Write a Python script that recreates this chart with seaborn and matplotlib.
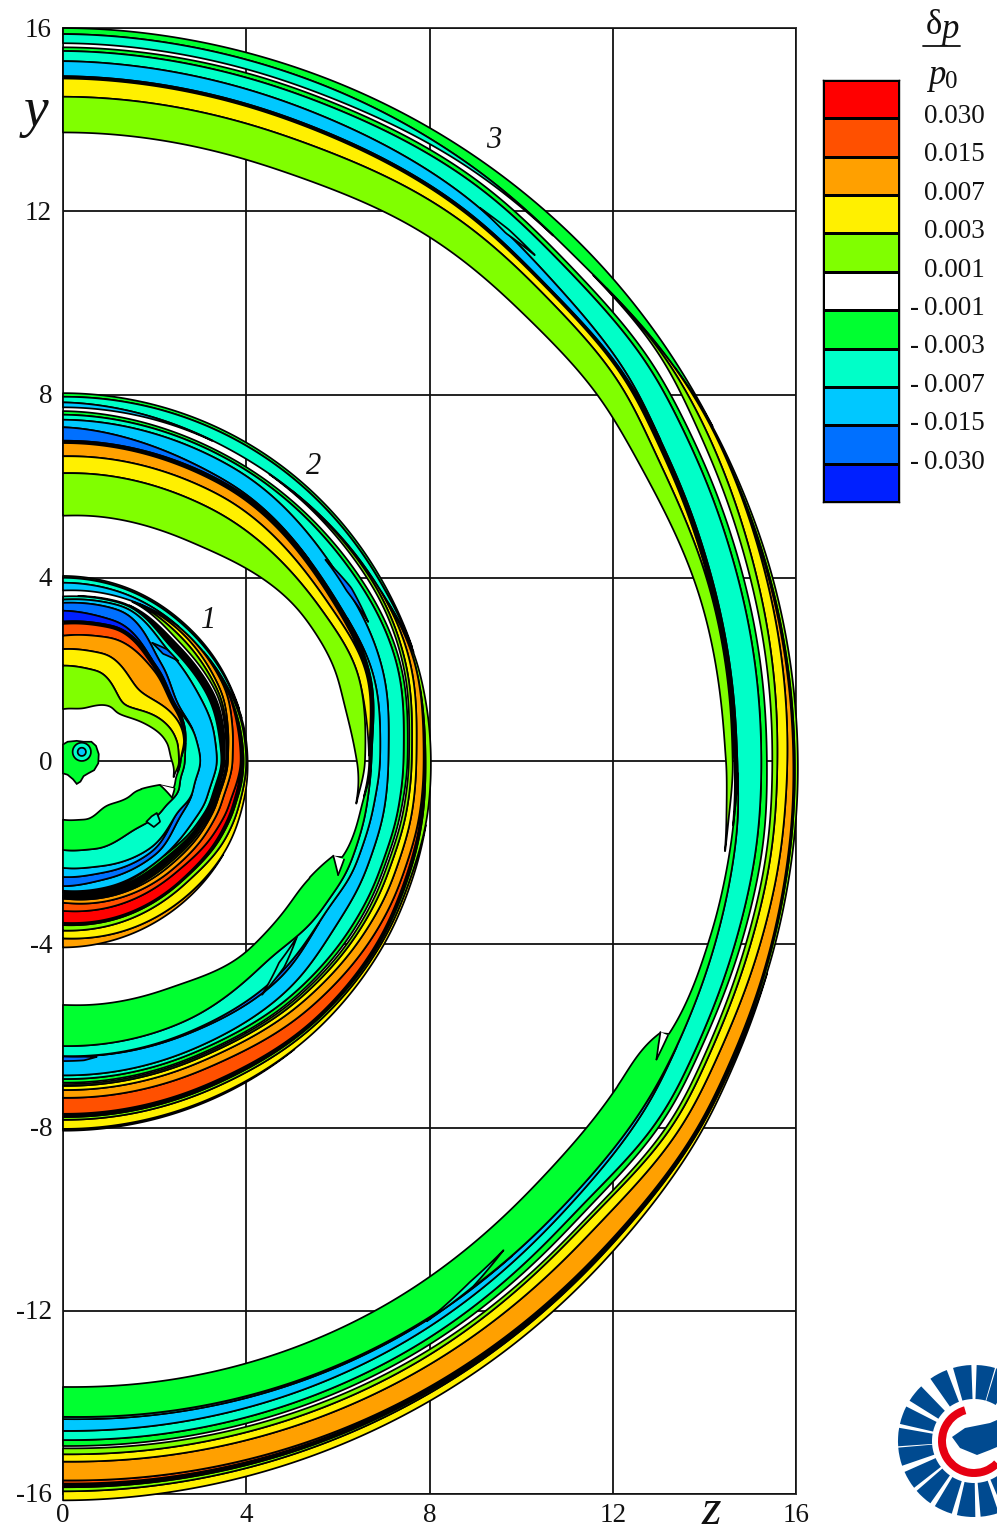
import numpy as np
import matplotlib
matplotlib.use("Agg")
import matplotlib.pyplot as plt
from matplotlib.colors import ListedColormap
from matplotlib.patches import Wedge, Polygon
import seaborn as sns

sns.set_style("white")
plt.rcParams['font.family'] = ['Liberation Serif', 'DejaVu Serif']

LEVEL_LABELS = ["0.030", "0.015", "0.007", "0.003", "0.001",
                "- 0.001", "- 0.003", "- 0.007", "- 0.015", "- 0.030"]
LEVEL_COLORS = ["#ff0000", "#ff5000", "#ffa000", "#fff000", "#80ff00", "#ffffff",
                "#00ff30", "#00ffc8", "#00c8ff", "#0070ff", "#0020ff"]
R, RO, O, Y, YG, W, G, T, C, B, BD = LEVEL_COLORS
K = "#000000"
TICKS_Z = [0, 4, 8, 12, 16]
TICKS_Y = [-16, -12, -8, -4, 0, 4, 8, 12, 16]

# layer order, outer to inner; None = white gap that shows the grid
ORDER = [("g_o", G), ("t_o", T), ("c_o", C), ("o2", O), ("y2", Y), ("yg2", YG), ("k2", K),
         ("r", R), ("ro", RO), ("o", O), ("y", Y), ("yg", YG), ("w", None), ("k3", K),
         ("g", G), ("t", T), ("c", C), ("b", B), ("bd", BD), ("c_in", C), ("t_in", T),
         ("g_in", G), ("k1", K), ("ro_t", RO), ("o_t", O), ("y_t", Y), ("w2", None), ("yg_t", YG)]

# ---- wave 1
ang1 = [90, 70, 45, 25, 10, 0, -8, -13.8, -13.9, -25, -45, -70, -90]
out1 = [4.04, 4.03, 4.0, 4.0, 4.02, 4.03, 4.04, 4.04, 4.04, 4.05, 4.05, 4.06, 4.07]
tooth1 = -13.9
w1 = dict(
    g_o=[.04, .04, .04, .02, 0, 0, 0, 0, 0, 0, 0, 0, 0],
    t_o=[.11, .1, .09, .05, 0, 0, 0, 0, 0, 0, 0, 0, 0],
    c_o=[.17, .1, 0, 0, 0, 0, 0, 0, 0, 0, 0, 0, 0],
    o2=[0, 0, 0, 0, 0, 0, 0, 0, 0, 0, .05, .12, .2],
    y2=[0, 0, 0, 0, .03, .03, .06, .08, .08, .12, .22, .2, .17],
    yg2=[0, 0, 0, .03, .06, .06, .06, .08, .08, .1, .09, .1, .12],
    k2=[0, 0, 0, 0, .05, .06, .06, .05, .05, .05, .03, .04, .05],
    r=[0, 0, 0, 0, 0, 0, .05, .08, .08, .12, .2, .24, .26],
    ro=[0, 0, 0, .03, .12, .18, .18, .17, .17, .15, .1, .14, .18],
    o=[0, 0, .06, .1, .1, .1, .1, .1, .1, .1, .1, .09, .09],
    y=[0, 0, .08, .06, .03, .02, .02, .03, .03, .04, .05, .03, .03],
    yg=[0, 0, .1, .05, .03, .02, .02, .03, .03, .04, .04, .03, .03],
    w=[.13, .1, .07, .06, .03, .03, .03, 0, 0, 0, 0, 0, 0],
    k3=[0, 0, .12, .12, .1, .05, .06, .05, .05, .06, .1, .09, .08],
    g=[0, .02, .02, .02, .02, .02, .02, .03, .03, .04, .06, .03, .03],
    t=[.07, .06, .1, .16, .1, .1, .1, .1, .1, .1, 0, .03, 0],
    c=[.07, .1, .3, .5, .41, .36, .36, .33, .33, .3, .14, .18, .1],
    b=[.17, .25, .12, .05, 0, 0, 0, 0, 0, .1, .1, .15, .2],
    bd=[.24, .12, 0, 0, 0, 0, 0, 0, 0, 0, 0, 0, 0],
    c_in=[0, 0, 0, 0, 0, 0, 0, 0, 0, 0, .08, .15, .2],
    t_in=[0, 0, 0, 0, .22, .34, .33, .3, .3, .3, .54, .4, .39],
    g_in=[0, 0, 0, 0, 0, .09, .1, .12, .43, .75, .78, .68, .66],
    k1=[.05, .05, .06, .06, .04, 0, 0, 0, 0, 0, 0, 0, 0],
    ro_t=[.26, .22, .04, 0, 0, 0, 0, 0, 0, 0, 0, 0, 0],
    o_t=[.29, .37, .53, .12, 0, 0, 0, 0, 0, 0, 0, 0, 0],
    y_t=[.36, .4, .45, .3, .16, .03, 0, 0, 0, 0, 0, 0, 0],
    w2=[0, 0, 0, 0, 0, 0, .06, 0, 0, 0, 0, 0, 0],
    yg_t=[.95, .88, .24, .32, .22, .16, 0, 0, 0, 0, 0, 0, 0],
)

# ---- wave 2
ang2 = [90, 60, 30, 15, 0, -8, -19.2, -19.3, -30, -45, -65, -90]
out2 = [8.03, 8.02, 8.0, 8.02, 8.03, 8.04, 8.05, 8.05, 8.07, 8.07, 8.07, 8.07]
tooth2 = -19.3
w2 = dict(
    g_o=[.08, .06, .05, 0, 0, 0, 0, 0, 0, 0, 0, 0],
    t_o=[.12, .25, .1, 0, 0, 0, 0, 0, 0, 0, 0, 0],
    c_o=[.11, 0, 0, 0, 0, 0, 0, 0, 0, 0, 0, 0],
    o2=[0, 0, 0, 0, 0, 0, 0, 0, 0, 0, .03, .04],
    y2=[0, 0, 0, 0, 0, 0, .05, .05, .06, .1, .18, .2],
    yg2=[0, 0, 0, .05, .12, .1, .05, .05, .04, .05, .06, .06],
    k2=[0, 0, 0, 0, .04, .04, .05, .05, .05, .05, .07, .07],
    ro=[0, 0, 0, 0, 0, .03, .08, .08, .15, .25, .33, .35],
    o=[0, 0, 0, .1, .16, .17, .18, .18, .2, .2, .18, .17],
    y=[0, 0, .04, .1, .1, .12, .14, .14, .12, .1, .09, .09],
    yg=[0, 0, .06, .06, .06, .07, .07, .07, .06, .05, .04, .04],
    w=[.08, .15, .12, .05, .03, .05, .05, .05, .05, .04, .03, .03],
    g=[.08, .06, .08, .08, .09, .07, .07, .07, .08, .08, .08, .08],
    t=[.11, .1, .3, .33, .33, .3, .28, .28, .3, .15, .08, .08],
    c=[.16, .33, .33, .22, .18, .24, .25, .25, .35, .3, .35, .42],
    b=[.3, .05, 0, 0, 0, 0, 0, 0, 0, .07, .03, 0],
    t_in=[0, 0, 0, .07, .19, .15, .12, .12, .1, .4, .25, .22],
    g_in=[0, 0, 0, 0, 0, .1, .22, .4, .65, .45, .8, .9],
    k1=[.05, .07, .08, .07, .05, 0, 0, 0, 0, 0, 0, 0],
    o_t=[.29, .22, .1, 0, 0, 0, 0, 0, 0, 0, 0, 0],
    y_t=[.37, .35, .2, .18, 0, 0, 0, 0, 0, 0, 0, 0],
    w2=[0, 0, 0, 0, .09, .13, 0, 0, 0, 0, 0, 0],
    yg_t=[.93, .85, .4, .45, .18, 0, 0, 0, 0, 0, 0, 0],
)

# ---- wave 3
ang3 = [90, 70, 55, 45, 35, 27, 14, 0, -5, -6, -15, -24.4, -24.5, -30, -42, -60, -90]
out3 = [16.0, 15.97, 15.97, 15.97, 15.96, 15.95, 16.0, 16.04, 16.05, 16.05, 16.05, 16.07, 16.07,
        16.12, 16.08, 16.1, 16.14]
tooth3 = -24.5
w3 = dict(
    g_o=[.13, .16, .22, .29, .12, 0, 0, 0, 0, 0, 0, 0, 0, 0, 0, 0, 0],
    t_o=[.2, .2, .06, 0, 0, 0, 0, 0, 0, 0, 0, 0, 0, 0, 0, 0, 0],
    y2=[0, 0, 0, 0, 0, 0, 0, 0, 0, 0, 0, .04, .04, .06, .12, .15, .2],
    yg2=[0, 0, 0, 0, 0, .03, .06, .07, .06, .06, .05, .03, .03, .03, .03, .04, .09],
    k2=[0, 0, 0, 0, 0, 0, .03, .03, .03, .03, .03, .03, .03, .03, .04, .05, .08],
    ro=[0, 0, 0, 0, 0, 0, 0, 0, 0, 0, 0, 0, 0, 0, .01, .03, .07],
    o=[0, 0, 0, 0, 0, 0, .05, .13, .17, .17, .24, .3, .3, .31, .44, .42, .41],
    y=[0, 0, 0, 0, .03, .14, .2, .22, .2, .2, .2, .18, .18, .17, .22, .18, .16],
    yg=[0, 0, 0, 0, .05, .16, .14, .11, .1, .1, .1, .09, .09, .09, .07, .1, .13],
    w=[.09, .08, .12, .21, .24, .18, .14, .12, .1, .1, .1, .13, .13, .14, .12, .09, .05],
    g=[.08, .1, .1, .1, .1, .11, .12, .12, .14, .14, .13, .1, .1, .1, .14, .13, .13],
    t=[.22, .25, .33, .4, .48, .55, .55, .53, .46, .46, .42, .4, .4, .38, .19, .2, .2],
    c=[.33, .3, .24, .17, .06, 0, 0, 0, 0, 0, 0, 0, 0, .05, .09, .16, .26],
    t_in=[0, 0, 0, 0, 0, 0, 0, 0, 0, 0, 0, 0, 0, 0, 0, .03, .05],
    g_in=[0, 0, 0, 0, 0, 0, 0, 0, .08, .09, .14, .27, .45, .72, .76, .72, .65],
    k1=[.05, .05, .05, .04, .05, .08, .08, .08, 0, 0, 0, 0, 0, 0, 0, 0, 0],
    y_t=[.4, .35, .21, .14, .14, .14, .02, 0, 0, 0, 0, 0, 0, 0, 0, 0, 0],
    w2=[0, 0, 0, 0, 0, 0, 0, .02, .12, .12, 0, 0, 0, 0, 0, 0, 0],
    yg_t=[.78, .75, .68, .62, .55, .41, .25, .15, .05, 0, 0, 0, 0, 0, 0, 0, 0],
)

# small closed lenses: colour, angles, outer radii, inner radii
lenses = [
    (T, [53, 50, 47], [15.12, 15.14, 15.1], [15.12, 15.04, 15.1]),
    (T, [-48, -52, -57], [14.37, 14.55, 14.58], [14.37, 14.43, 14.58]),
    (B, [37.5, 31, 24.5], [7.22, 7.34, 7.32], [7.22, 7.22, 7.32]),
    (B, [-90, -86, -83.5], [6.55, 6.55, 6.5], [6.45, 6.47, 6.5]),
    (T, [-37, -43, -49.6], [6.39, 6.6, 6.7], [6.39, 6.45, 6.7]),
    (B, [53, 47, 41], [3.23, 3.33, 3.33], [3.23, 3.2, 3.33]),
    (T, [-29, -32, -36], [2.34, 2.5, 2.45], [2.34, 2.28, 2.25]),
]
# white notches between a tooth and the stripe beside it
notches = [
    ([-24.4, -25.5, -26.7], [14.5, 14.5, 14.5], [14.32, 14.4, 14.5]),
    ([-19.3, -21, -22.5], [6.5, 6.5, 6.5], [6.25, 6.38, 6.5]),
    ([-13.9, -16, -18.6], [2.51, 2.51, 2.51], [2.18, 2.33, 2.51]),
]
# source blob near origin
blob_z = [0, .1, .3, .45, .62, .72, .78, .77, .68, .55, .45, .38, .3, .22, .1, 0]
blob_y = [.36, .42, .44, .42, .42, .33, .15, -.05, -.2, -.27, -.33, -.45, -.5, -.4, -.3, -.27]
ring_centre = (.41, .2)
ring_radii = [.2, .09]


def pchip(xq, x, y):
    """Monotone cubic through the read anchors, so that bands curve without kinks."""
    x, y = np.asarray(x, float), np.asarray(y, float)
    h = np.diff(x)
    s = np.diff(y) / h
    m = np.zeros_like(y)
    for i in range(1, len(y) - 1):
        if s[i - 1] * s[i] > 0:
            w1_, w2_ = 2 * h[i] + h[i - 1], h[i] + 2 * h[i - 1]
            m[i] = (w1_ + w2_) / (w1_ / s[i - 1] + w2_ / s[i])
    m[0], m[-1] = s[0], s[-1]
    i = np.clip(np.searchsorted(x, xq) - 1, 0, len(h) - 1)
    t = (xq - x[i]) / h[i]
    return ((2 * t**3 - 3 * t**2 + 1) * y[i] + (t**3 - 2 * t**2 + t) * h[i] * m[i]
            + (-2 * t**3 + 3 * t**2) * y[i + 1] + (t**3 - t**2) * h[i] * m[i + 1])


def soften(v, half=20):
    kern = np.hanning(2 * half + 1)
    kern /= kern.sum()
    return np.convolve(np.pad(v, half, mode="edge"), kern, mode="valid")


fig = plt.figure(figsize=(9.97, 15.34), dpi=100, facecolor="white")
ax = fig.add_axes([63 / 997, 1 - 1494 / 1534, 733 / 997, 1466 / 1534])
ax.set_xlim(0, 16)
ax.set_ylim(-16, 16)
ax.set_xticks(TICKS_Z)
ax.set_yticks(TICKS_Y)
ax.grid(True, color="#111111", lw=1.3)
ax.set_axisbelow(True)
ax.tick_params(length=0, labelbottom=False, labelleft=False)
for s in ax.spines.values():
    s.set_color("#333333")
    s.set_linewidth(1.4)
    s.set_zorder(0.5)

LW = 1.25


def draw_arc(col, th, ro, ri, closed=True):
    t = np.radians(th)
    xs = np.r_[ro * np.cos(t), (ri * np.cos(t))[::-1]]
    ys = np.r_[ro * np.sin(t), (ri * np.sin(t))[::-1]]
    ax.fill(xs, ys, facecolor=col, edgecolor=K if closed else "none", lw=LW,
            joinstyle="round", clip_on=False, zorder=3)
    if not closed:
        ax.plot(ro * np.cos(t), ro * np.sin(t), color=K, lw=LW, clip_on=False, zorder=3.1)
        ax.plot(ri * np.cos(t), ri * np.sin(t), color=K, lw=LW, clip_on=False, zorder=3.1)


def draw_wave(angles, outer, table, tooth):
    th = np.arange(90, -90.01, -0.25)
    a = np.array(angles, float)[::-1]
    rim = soften(pchip(th, a, np.array(outer, float)[::-1]))
    for name, col in ORDER:
        raw = pchip(th, a, np.array(table.get(name, [0] * len(angles)), float)[::-1])
        d = soften(raw)
        if name == "g_in":
            d = np.where(th > tooth - 6, raw, d)
        d = np.clip(d, 0, None)
        inner = rim - d
        if col is not None:
            idx = np.flatnonzero(d > 0.006)
            if idx.size:
                for seg in np.split(idx, np.flatnonzero(np.diff(idx) > 1) + 1):
                    draw_arc(col, th[seg], rim[seg], inner[seg])
        rim = inner


draw_wave(ang3, out3, w3, tooth3)
draw_wave(ang2, out2, w2, tooth2)
draw_wave(ang1, out1, w1, tooth1)

for col, a, ro_, ri_ in lenses:
    th = np.linspace(a[0], a[-1], 30)
    asc = np.argsort(a)
    draw_arc(col, th, np.interp(th, np.array(a)[asc], np.array(ro_)[asc]),
             np.interp(th, np.array(a)[asc], np.array(ri_)[asc]))
for a, ro_, ri_ in notches:
    th = np.linspace(a[0], a[-1], 30)
    asc = np.argsort(a)
    draw_arc("white", th, np.interp(th, np.array(a)[asc], np.array(ro_)[asc]),
             np.interp(th, np.array(a)[asc], np.array(ri_)[asc]), closed=False)

ax.fill(blob_z, blob_y, facecolor=G, edgecolor=K, lw=LW, zorder=3, clip_on=False)
for rad, col in zip(ring_radii, [T, C]):
    t = np.radians(np.arange(0, 361, 10))
    ax.fill(ring_centre[0] + rad * np.cos(t), ring_centre[1] + rad * np.sin(t),
            facecolor=col, edgecolor=K, lw=LW, zorder=3.2)

SW, SH = 997, 1534


def ftext(x, y, s, **kw):
    kw.setdefault("ha", "center")
    kw.setdefault("va", "center")
    kw.setdefault("fontsize", 19.5)
    kw.setdefault("color", "#111111")
    fig.text(x / SW, 1 - y / SH, s, **kw)


for v in TICKS_Z:
    ftext(63 + v * 733 / 16, 1515, str(v))
for v in TICKS_Y:
    ftext(52, 763 - v * 45.8, str(v), ha="right")
ftext(36, 112, "y", fontsize=40, style="italic")
ftext(711, 1512, "z", fontsize=36, style="italic")
ftext(209, 620, "1", fontsize=22, style="italic")
ftext(314, 467, "2", fontsize=22, style="italic")
ftext(494, 140, "3", fontsize=22, style="italic")

# colour key
cax = fig.add_axes([823 / SW, 1 - 502 / SH, 76 / SW, 422 / SH])
sns.heatmap(np.arange(len(LEVEL_COLORS)).reshape(-1, 1), cmap=ListedColormap(LEVEL_COLORS),
            cbar=False, linewidths=1.0, linecolor="black", xticklabels=False,
            yticklabels=False, ax=cax)
for s in cax.spines.values():
    s.set_visible(True)
    s.set_color("black")
    s.set_linewidth(1.0)
for i, lab in enumerate(LEVEL_LABELS):
    ypx = 116.5 + i * 38.4
    if lab.startswith("-"):
        ftext(910, ypx, "-", ha="left")
        ftext(924, ypx, lab[2:], ha="left")
    else:
        ftext(924, ypx, lab, ha="left")
ftext(934, 26, "δ", fontsize=25)
ftext(950, 29, "p", fontsize=25, style="italic")
fig.add_artist(plt.Line2D([923 / SW, 960 / SW], [1 - 46 / SH] * 2, color="#111111", lw=1.3))
ftext(937, 76, "p", fontsize=25, style="italic")
ftext(951, 82, "0", fontsize=18)

# emblem at lower right, drawn in pixel coordinates
lax = fig.add_axes([0, 0, 1, 1], facecolor="none")
lax.set_xlim(0, SW)
lax.set_ylim(SH, 0)
lax.axis("off")
BLUE = "#004a90"
cx, cy = 974, 1441
for a in [66, 81, 99, 118, 141, 160, 177, 192, 211, 228, 246, 264, 282, 300]:
    lax.add_patch(Wedge((cx, cy), 76, -a - 7, -a + 7, width=34, facecolor=BLUE, edgecolor="none"))
lax.add_patch(Wedge((cx, cy), 36, 44, 254, width=8, facecolor="#e60012", edgecolor="none"))
fish_x = [952, 965, 990, 997, 997, 990, 977, 960]
fish_y = [1437, 1428, 1423, 1420, 1447, 1450, 1455, 1448]
lax.add_patch(Polygon(np.c_[fish_x, fish_y], closed=True, facecolor=BLUE, edgecolor="none"))

fig.savefig("out.png", dpi=100)
